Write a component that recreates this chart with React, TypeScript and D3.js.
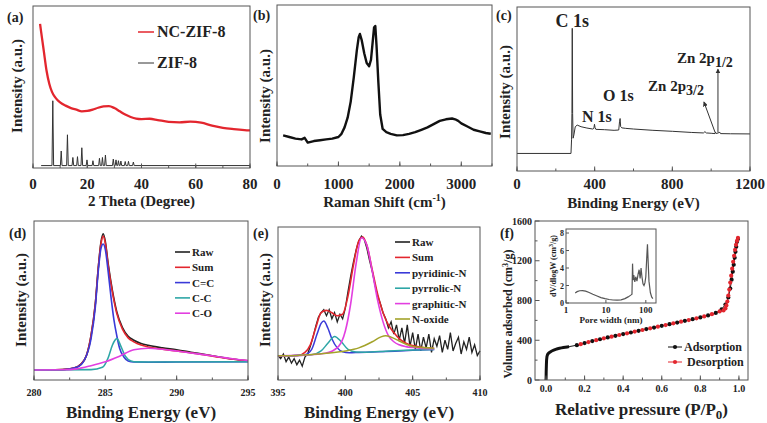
import React from "react";
import * as d3 from "d3";

const FONT = "Liberation Serif";

// ---------- (a) XRD ----------
const xrdNCx = [2.6, 3.0, 3.5, 4, 5, 6, 7, 8, 9, 10, 12, 14, 16, 18, 20, 22, 24, 26, 28, 30, 32, 34, 36, 38, 40, 43, 46, 50, 54, 58, 62, 66, 70, 74, 78, 80];
const xrdNCy = [89, 84, 78, 72, 60, 52, 47, 44, 42, 40.5, 38.5, 37, 36, 35, 35.2, 36, 37.2, 38, 38.2, 37, 35, 33, 31.5, 30.5, 30.2, 30.4, 29.6, 28.5, 28.2, 28.6, 28, 26.2, 24.8, 24, 23.4, 23.2];
const zifPeakPos = [7.3, 10.4, 12.7, 14.7, 16.4, 18.0, 19.9, 22.1, 24.5, 25.6, 26.7, 29.6, 30.6, 31.5, 32.4, 34.0, 35.2, 37.0];
const zifPeakH = [40, 9, 19, 5, 5.5, 11, 3.5, 3, 4.5, 5, 6.5, 4, 3.5, 3, 2.8, 2.5, 2.6, 2.2];
const zifBase = 1.5;
const xrdTicks = [0, 20, 40, 60, 80];

// ---------- (b) Raman ----------
const ramanX = [100, 200, 300, 400, 450, 500, 600, 700, 800, 900, 1000, 1050, 1100, 1150, 1200, 1250, 1300, 1330, 1350, 1380, 1420, 1460, 1500, 1530, 1560, 1580, 1600, 1620, 1650, 1680, 1720, 1780, 1850, 1950, 2050, 2150, 2250, 2350, 2450, 2550, 2650, 2750, 2850, 2900, 2950, 3000, 3100, 3200, 3300, 3400, 3480];
const ramanY = [19, 18, 17, 16.5, 17.5, 14.5, 15.5, 16, 16.5, 17, 18, 20, 24, 30, 40, 55, 72, 80, 82, 78, 70, 64, 62, 66, 78, 86, 87, 75, 52, 32, 23, 21, 20, 19, 19.2, 20, 21, 22.5, 24, 26, 28, 29, 29.5, 29, 28, 26.5, 24.5, 22.5, 21.5, 20.5, 20];
const ramanTicks = [0, 1000, 2000, 3000];

// ---------- (c) XPS survey ----------
const surveyX = [0, 278, 281, 283, 284.6, 286.5, 289, 293, 300, 310, 330, 360, 390, 396, 399, 402, 406, 450, 500, 524, 528, 531, 534, 540, 560, 600, 700, 800, 900, 960, 968, 975, 1000, 1020, 1022, 1026, 1045, 1048, 1100, 1200];
const surveyY = [10.7, 10.7, 19, 35, 87, 35, 20, 22, 27, 28, 27, 26.2, 25.6, 26, 28.5, 26.5, 25.4, 25.2, 24.8, 25, 30, 32, 27, 26.3, 26, 25.6, 24.8, 24.2, 23.5, 23.2, 24, 23.2, 23, 22.8, 23.8, 22.8, 23.6, 22.8, 22.7, 22.6];
const surveyTicks = [0, 400, 800, 1200];

// ---------- (d) C 1s ----------
const c1sRawX = [280, 281, 282, 282.8, 283.3, 283.7, 284.0, 284.3, 284.5, 284.7, 284.85, 285.0, 285.2, 285.5, 285.8, 286.2, 286.6, 287.0, 287.5, 288, 289, 290, 291, 292, 293, 294, 295];
const c1sRawY = [6.3, 6.3, 6.5, 7.5, 10, 16, 28, 48, 70, 87, 92, 87, 73, 56, 43, 33, 27.5, 25, 23, 21.8, 20.2, 19, 17.5, 16, 14.5, 13, 12];
const c1sSumX = [280, 281, 282, 282.8, 283.3, 283.7, 284.0, 284.3, 284.5, 284.7, 284.85, 285.0, 285.2, 285.5, 285.8, 286.2, 286.6, 287.0, 287.5, 288, 289, 290, 291, 292, 293, 294, 295];
const c1sSumY = [6.3, 6.3, 6.5, 7.5, 10, 16, 28, 48, 70, 86, 90.5, 86, 72, 55, 42, 32, 26.5, 24, 22, 20.8, 19.4, 18.3, 17, 15.8, 14.3, 13, 12];
const c1sCCX = [280, 282, 283, 283.5, 284, 284.3, 284.5, 284.7, 284.85, 285, 285.2, 285.4, 285.6, 285.8, 286.0, 286.3, 286.6, 287, 288, 290, 295];
const c1sCCY = [6.3, 6.4, 8, 12, 26, 46, 68, 83, 85.5, 82, 68, 52, 38, 28, 20, 14.5, 12, 11.3, 11.2, 11.3, 11.5];
const c1sCsCX = [280, 284, 284.8, 285.2, 285.5, 285.8, 286.1, 286.4, 286.8, 287.2, 288, 295];
const c1sCsCY = [6.3, 6.5, 8, 14, 22, 26, 21, 15, 12, 11.4, 11.3, 11.5];
const c1sCOX = [280, 282, 283, 284, 285, 286, 287, 288, 289, 290, 291, 292, 293, 294, 295];
const c1sCOY = [6.3, 6.4, 7, 9, 11.5, 15, 19, 20, 19.3, 18.2, 17, 15.8, 14.5, 13.2, 12.2];
const c1sTicks = [280, 285, 290, 295];
const c1sLegend = ["Raw", "Sum", "C=C", "C-C", "C-O"];

// ---------- (e) N 1s ----------
const n1sRawX = [395.0, 395.2, 395.4, 395.6, 395.8, 396.0, 396.2, 396.4, 396.6, 396.8, 397.0, 397.2, 397.4, 397.6, 397.8, 398.0, 398.2, 398.4, 398.6, 398.8, 399.0, 399.2, 399.4, 399.6, 399.8, 400.0, 400.2, 400.4, 400.6, 400.8, 401.0, 401.2, 401.4, 401.6, 401.8, 402.0, 402.2, 402.4, 402.6, 402.8, 403.0, 403.2, 403.4, 403.6, 403.8, 404.0, 404.2, 404.4, 404.6, 404.8, 405.0, 405.2, 405.4, 405.6, 405.8, 406.0, 406.2, 406.4, 406.6, 406.8, 407.0, 407.2, 407.4, 407.6, 407.8, 408.0, 408.2, 408.4, 408.6, 408.8, 409.0, 409.2, 409.4, 409.6, 409.8, 410.0];
const n1sRawY = [16, 14, 17, 12, 15, 11, 14, 10, 13, 9, 15, 17, 22, 28, 35, 41, 44, 46, 42, 46, 40, 44, 38, 43, 40, 47, 58, 68, 77, 85, 91, 94, 92, 86, 78, 71, 62, 55, 50, 44, 40, 34, 38, 30, 36, 26, 34, 24, 36, 22, 31, 20, 30, 19, 28, 21, 30, 18, 27, 22, 29, 18, 26, 20, 31, 19, 24, 28, 17, 25, 20, 28, 18, 23, 16, 19];
const n1sSumX = [395, 396.5, 397, 397.4, 397.8, 398.2, 398.6, 399.0, 399.4, 399.8, 400.2, 400.6, 401.0, 401.3, 401.6, 402.0, 402.4, 402.8, 403.2, 403.6, 404.0, 404.5, 405, 405.5, 406, 406.6];
const n1sSumY = [15.8, 16, 18, 23, 34, 44, 45.5, 44, 42, 43, 55, 75, 91, 93.5, 88, 72, 56, 44, 36, 31, 27, 24, 22.5, 21.5, 21, 20.6];
const n1sPyrdX = [395, 396, 397, 397.5, 397.9, 398.2, 398.4, 398.7, 399, 399.4, 399.8, 400.3, 401, 402, 403, 404, 405, 406.6];
const n1sPyrdY = [15.8, 15.9, 16.5, 20, 30, 37, 38.5, 34, 27, 21, 18.5, 17.8, 18, 18.3, 18.6, 19, 19.4, 20];
const n1sPyrrX = [395, 396, 397.5, 398.2, 398.7, 399.2, 399.7, 400.2, 400.8, 401.5, 403, 404.5, 406.6];
const n1sPyrrY = [15.8, 15.9, 16.5, 19, 24, 28.5, 25, 20, 18.3, 18.2, 18.8, 19.4, 20];
const n1sGraX = [395, 396, 398.5, 399.5, 400, 400.4, 400.8, 401.2, 401.6, 402, 402.4, 402.8, 403.2, 403.6, 404, 404.5, 405, 405.5, 406.6];
const n1sGraY = [15.8, 15.9, 17.5, 22, 32, 50, 76, 93, 88, 71, 52, 38, 29, 25, 23, 21.8, 21.2, 20.8, 20.5];
const n1sOxX = [395, 396, 398, 399, 400, 401, 402, 402.6, 403, 403.4, 404, 404.6, 405.2, 406.6];
const n1sOxY = [15.8, 15.9, 17, 17.8, 19, 21, 25, 28, 29, 28, 25.5, 23, 21.5, 20.8];
const n1sTicks = [395, 400, 405, 410];
const n1sLegend = ["Raw", "Sum", "pyridinic-N", "pyrrolic-N", "graphitic-N", "N-oxide"];

// ---------- (f) BET ----------
const adsX = [0, 0.0005, 0.001, 0.002, 0.003, 0.005, 0.008, 0.01, 0.015, 0.02, 0.03, 0.04, 0.05, 0.06, 0.07, 0.08, 0.09, 0.1, 0.11, 0.12, 0.16, 0.2, 0.24, 0.28, 0.32, 0.36, 0.4, 0.44, 0.48, 0.52, 0.56, 0.6, 0.64, 0.68, 0.72, 0.76, 0.8, 0.84, 0.88, 0.91, 0.93, 0.945, 0.955, 0.962, 0.968, 0.973, 0.978, 0.982, 0.986, 0.99, 0.995];
const adsY = [0, 20, 80, 150, 200, 235, 255, 262, 272, 280, 292, 300, 308, 314, 319, 323, 327, 330, 333, 336, 350, 372, 392, 410, 428, 445, 462, 478, 495, 512, 528, 545, 562, 578, 595, 612, 630, 650, 675, 710, 760, 830, 920, 1010, 1090, 1160, 1230, 1290, 1340, 1390, 1420];
const desX = [0.995, 0.99, 0.985, 0.98, 0.975, 0.97, 0.965, 0.96, 0.955, 0.95, 0.945, 0.94, 0.935, 0.93, 0.92, 0.9, 0.86, 0.82, 0.78, 0.74, 0.7, 0.66, 0.62, 0.58, 0.54, 0.5, 0.46, 0.42, 0.38, 0.34, 0.3, 0.26, 0.22, 0.18];
const desY = [1430, 1400, 1360, 1310, 1250, 1190, 1120, 1050, 980, 910, 850, 790, 750, 720, 700, 690, 662, 640, 621, 603, 587, 570, 553, 537, 520, 503, 487, 470, 453, 436, 419, 401, 382, 361];
const betXTicks = [0, 0.2, 0.4, 0.6, 0.8, 1.0];
const betYTicks = [0, 400, 800, 1200, 1600];
const poreX = [1.7, 1.9, 2.2, 2.6, 3.1, 3.8, 4.7, 6, 7.5, 9.5, 12, 15, 19, 24, 30, 36, 42, 45, 46.5, 48, 50, 53, 56, 60, 64, 68, 72, 76, 80, 85, 90, 95, 100, 105, 110, 115, 120, 130, 140, 150];
const poreY = [1.15, 1.3, 1.4, 1.42, 1.35, 1.2, 1.0, 0.8, 0.62, 0.5, 0.4, 0.34, 0.32, 0.36, 0.5, 0.7, 0.9, 1.0, 4.5, 2.6, 3.2, 2.4, 3.0, 2.5, 3.3, 3.8, 2.8, 4.0, 3.0, 2.2, 2.0, 2.3, 3.0, 5.0, 6.7, 4.5, 2.5, 1.2, 0.7, 0.5];
const poreXTicks = [1, 10, 100];
const poreYTicks = [0, 2, 4, 6, 8];

// ---------- helpers ----------
const zip = (xs: number[], ys: number[]) => xs.map((x, i) => [x, ys[i]] as [number, number]);
const INK = "#222";
const RED = "#e3262e";
const BLUE = "#3a3ad8";
const TEAL = "#2ea6a6";
const MAG = "#e23fe0";
const OLIVE = "#a3a32a";
const TS = { fontFamily: FONT };

type Box = { x0: number; x1: number; y0: number; y1: number };

function Frame({ b }: { b: Box }) {
  return <rect x={b.x0} y={b.y0} width={b.x1 - b.x0} height={b.y1 - b.y0} fill="none" stroke="#555" strokeWidth={1} />;
}

function Txt({ x, y, fs, anchor, children, fill }: any) {
  return (
    <text x={x} y={y} textAnchor={anchor || "start"} fontSize={fs} fontWeight="bold" style={TS} fill={fill || INK}>
      {children}
    </text>
  );
}

function BottomTicks({ sx, b, major, minor, fs, ly, fmt }: any) {
  return (
    <g>
      {minor.map((t: number, i: number) => (
        <line key={"m" + i} x1={sx(t)} x2={sx(t)} y1={b.y1} y2={b.y1 - 2.5} stroke="#555" />
      ))}
      {major.map((t: number, i: number) => (
        <line key={"M" + i} x1={sx(t)} x2={sx(t)} y1={b.y1} y2={b.y1 - 4.5} stroke="#555" />
      ))}
      {major.map((t: number, i: number) => (
        <Txt key={"t" + i} x={sx(t)} y={ly} fs={fs} anchor="middle">
          {fmt ? fmt(t) : t}
        </Txt>
      ))}
    </g>
  );
}

function YTitle({ x, y, fs, children }: any) {
  return (
    <text transform={`translate(${x},${y}) rotate(-90)`} textAnchor="middle" fontSize={fs} fontWeight="bold" style={TS} fill={INK}>
      {children}
    </text>
  );
}

const range = (a: number, b: number, s: number) => d3.range(a, b + s / 2, s);

export default function App() {
  const A: Box = { x0: 33, x1: 250, y0: 6, y1: 168 };
  const B: Box = { x0: 277, x1: 492, y0: 5, y1: 166 };
  const C: Box = { x0: 517, x1: 750, y0: 7, y1: 171 };
  const D: Box = { x0: 34, x1: 248, y0: 221, y1: 380 };
  const E: Box = { x0: 278, x1: 480, y0: 227, y1: 380 };
  const F: Box = { x0: 535, x1: 748, y0: 221, y1: 380 };
  const I: Box = { x0: 566, x1: 656, y0: 229, y1: 303 };

  const xA = d3.scaleLinear().domain([0, 80]).range([A.x0, A.x1]);
  const yA = d3.scaleLinear().domain([0, 100]).range([A.y1, A.y0]);
  const xB = d3.scaleLinear().domain([0, 3500]).range([B.x0, B.x1]);
  const yB = d3.scaleLinear().domain([0, 100]).range([B.y1, B.y0]);
  const xC = d3.scaleLinear().domain([0, 1200]).range([C.x0, C.x1]);
  const yC = d3.scaleLinear().domain([0, 100]).range([C.y1, C.y0]);
  const xD = d3.scaleLinear().domain([280, 295]).range([D.x0, D.x1]);
  const yD = d3.scaleLinear().domain([0, 100]).range([D.y1, D.y0]);
  const xE = d3.scaleLinear().domain([395, 410]).range([E.x0, E.x1]);
  const yE = d3.scaleLinear().domain([0, 100]).range([E.y1, E.y0]);
  const xF = d3.scaleLinear().domain([-0.057, 1.047]).range([F.x0, F.x1]);
  const yF = d3.scaleLinear().domain([0, 1600]).range([F.y1, F.y0]);
  const xI = d3.scaleLog().domain([1, 180]).range([I.x0, I.x1]);
  const yI = d3.scaleLinear().domain([0, 8.46]).range([I.y1, I.y0]);

  const mk = (sx: any, sy: any, curve: any = d3.curveMonotoneX) =>
    d3.line<[number, number]>().x((d) => sx(d[0])).y((d) => sy(d[1])).curve(curve);

  const zifPts: [number, number][] = [[3, zifBase]];
  zifPeakPos.forEach((p, i) => {
    zifPts.push([p - 0.3, zifBase], [p, zifBase + zifPeakH[i]], [p + 0.3, zifBase]);
  });
  zifPts.push([80, zifBase]);

  const lA = mk(xA, yA);
  const lAlin = mk(xA, yA, d3.curveLinear);
  const lB = mk(xB, yB, d3.curveLinear);
  const lC = mk(xC, yC, d3.curveLinear);
  const lD = mk(xD, yD);
  const lE = mk(xE, yE);
  const lElin = mk(xE, yE, d3.curveLinear);
  const lF = mk(xF, yF, d3.curveLinear);
  const lI = mk(xI, yI, d3.curveLinear);

  const dColors = [INK, RED, BLUE, TEAL, MAG];
  const eColors = [INK, RED, BLUE, TEAL, MAG, OLIVE];

  const adsPts = zip(adsX, adsY);
  const desPts = zip(desX, desY);

  return (
    <svg width={767} height={423} style={{ position: "absolute", left: 0, top: 0, background: "#fff" }}>
      <defs>
        <marker id="arr" viewBox="0 0 6 6" refX="5" refY="3" markerWidth="5" markerHeight="5" orient="auto">
          <path d="M0,0 L6,3 L0,6 z" fill="#333" />
        </marker>
      </defs>
      <rect x={0} y={0} width={767} height={423} fill="#fff" />

      {/* ===== (a) ===== */}
      <Txt x={7} y={22} fs={14}>(a)</Txt>
      <path d={lAlin(zifPts) || ""} fill="none" stroke="#333" strokeWidth={1} />
      <path d={lA(zip(xrdNCx, xrdNCy)) || ""} fill="none" stroke={RED} strokeWidth={2.3} />
      <Frame b={A} />
      <BottomTicks sx={xA} b={A} major={xrdTicks} minor={range(0, 80, 10)} fs={15} ly={189} />
      <Txt x={(A.x0 + A.x1) / 2} y={206} fs={15} anchor="middle">2 Theta (Degree)</Txt>
      <YTitle x={22} y={86} fs={15}>Intensity (a.u.)</YTitle>
      <line x1={138} x2={154} y1={32} y2={32} stroke={RED} strokeWidth={1.5} />
      <Txt x={157} y={37} fs={16}>NC-ZIF-8</Txt>
      <line x1={138} x2={154} y1={63} y2={63} stroke="#333" strokeWidth={1} />
      <Txt x={157} y={68} fs={16}>ZIF-8</Txt>

      {/* ===== (b) ===== */}
      <Txt x={253} y={20} fs={14}>(b)</Txt>
      <path d={lB(zip(ramanX, ramanY)) || ""} fill="none" stroke="#111" strokeWidth={2.4} strokeLinejoin="round" />
      <Frame b={B} />
      <BottomTicks sx={xB} b={B} major={ramanTicks} minor={range(0, 3500, 500)} fs={15} ly={189} />
      <Txt x={(B.x0 + B.x1) / 2} y={207} fs={15} anchor="middle">
        Raman Shift (cm<tspan dy={-6} fontSize={10}>-1</tspan><tspan dy={6}>)</tspan>
      </Txt>
      <YTitle x={270} y={96} fs={15}>Intensity (a.u.)</YTitle>

      {/* ===== (c) ===== */}
      <Txt x={496} y={20} fs={14}>(c)</Txt>
      <path d={lC(zip(surveyX, surveyY)) || ""} fill="none" stroke="#333" strokeWidth={1} />
      <Frame b={C} />
      <BottomTicks sx={xC} b={C} major={surveyTicks} minor={range(0, 1200, 200)} fs={15} ly={189} />
      <Txt x={(C.x0 + C.x1) / 2} y={208} fs={15} anchor="middle">Binding Energy (eV)</Txt>
      <YTitle x={510} y={92} fs={15}>Intensity (a.u.)</YTitle>
      <Txt x={xC(284.6)} y={yC(88)} fs={18} anchor="middle">C 1s</Txt>
      <Txt x={xC(335)} y={yC(30)} fs={16}>N 1s</Txt>
      <Txt x={xC(443)} y={yC(42.4)} fs={16}>O 1s</Txt>
      <Txt x={xC(675)} y={yC(48.5)} fs={15}>
        Zn 2p<tspan dy={4} fontSize={14}>3/2</tspan>
      </Txt>
      <Txt x={xC(824)} y={yC(66)} fs={15}>
        Zn 2p<tspan dy={4} fontSize={14}>1/2</tspan>
      </Txt>
      <line x1={xC(1020)} y1={yC(23.6)} x2={xC(963)} y2={yC(42)} stroke="#333" strokeWidth={1} markerEnd="url(#arr)" />
      <line x1={xC(1035)} y1={yC(23.6)} x2={xC(1035)} y2={yC(62)} stroke="#333" strokeWidth={1} markerEnd="url(#arr)" />

      {/* ===== (d) ===== */}
      <Txt x={9} y={238} fs={14}>(d)</Txt>
      <path d={lD(zip(c1sRawX, c1sRawY)) || ""} fill="none" stroke={INK} strokeWidth={1.6} />
      <path d={lD(zip(c1sSumX, c1sSumY)) || ""} fill="none" stroke={RED} strokeWidth={1.6} />
      <path d={lD(zip(c1sCCX, c1sCCY)) || ""} fill="none" stroke={BLUE} strokeWidth={1.6} />
      <path d={lD(zip(c1sCsCX, c1sCsCY)) || ""} fill="none" stroke={TEAL} strokeWidth={1.6} />
      <path d={lD(zip(c1sCOX, c1sCOY)) || ""} fill="none" stroke={MAG} strokeWidth={1.6} />
      <Frame b={D} />
      <BottomTicks sx={xD} b={D} major={c1sTicks} minor={range(280, 295, 2.5)} fs={10} ly={396} />
      <Txt x={(D.x0 + D.x1) / 2} y={418} fs={17} anchor="middle">Binding Energy (eV)</Txt>
      <YTitle x={26} y={300} fs={15}>Intensity (a.u.)</YTitle>
      {c1sLegend.map((s, i) => (
        <g key={s}>
          <line x1={175} x2={190} y1={252 + i * 15.3} y2={252 + i * 15.3} stroke={dColors[i]} strokeWidth={1.6} />
          <Txt x={192} y={256 + i * 15.3} fs={11}>{s}</Txt>
        </g>
      ))}

      {/* ===== (e) ===== */}
      <Txt x={253} y={238} fs={14}>(e)</Txt>
      <path d={lElin(zip(n1sRawX, n1sRawY)) || ""} fill="none" stroke={INK} strokeWidth={1.3} />
      <path d={lE(zip(n1sSumX, n1sSumY)) || ""} fill="none" stroke={RED} strokeWidth={1.6} />
      <path d={lE(zip(n1sPyrdX, n1sPyrdY)) || ""} fill="none" stroke={BLUE} strokeWidth={1.5} />
      <path d={lE(zip(n1sPyrrX, n1sPyrrY)) || ""} fill="none" stroke={TEAL} strokeWidth={1.5} />
      <path d={lE(zip(n1sGraX, n1sGraY)) || ""} fill="none" stroke={MAG} strokeWidth={1.6} />
      <path d={lE(zip(n1sOxX, n1sOxY)) || ""} fill="none" stroke={OLIVE} strokeWidth={1.5} />
      <Frame b={E} />
      <BottomTicks sx={xE} b={E} major={n1sTicks} minor={range(395, 410, 2.5)} fs={10} ly={396} />
      <Txt x={(E.x0 + E.x1) / 2} y={418} fs={17} anchor="middle">Binding Energy (eV)</Txt>
      <YTitle x={270} y={300} fs={15}>Intensity (a.u.)</YTitle>
      {n1sLegend.map((s, i) => (
        <g key={s}>
          <line x1={395} x2={410} y1={242 + i * 15.4} y2={242 + i * 15.4} stroke={eColors[i]} strokeWidth={1.6} />
          <Txt x={412} y={246 + i * 15.4} fs={11}>{s}</Txt>
        </g>
      ))}

      {/* ===== (f) ===== */}
      <Txt x={500} y={238} fs={14}>(f)</Txt>
      <path d={lF(adsPts) || ""} fill="none" stroke="#111" strokeWidth={1} />
      <path d={lF(adsPts.filter((d) => d[0] <= 0.12)) || ""} fill="none" stroke="#111" strokeWidth={3} />
      <path d={lF(desPts) || ""} fill="none" stroke={RED} strokeWidth={1} />
      {adsPts.filter((d) => d[0] >= 0.16).map((d, i) => (
        <circle key={"a" + i} cx={xF(d[0])} cy={yF(d[1])} r={2.1} fill="#111" />
      ))}
      {desPts.map((d, i) => (
        <circle key={"d" + i} cx={xF(d[0])} cy={yF(d[1])} r={2.1} fill={RED} />
      ))}
      <Frame b={F} />
      <BottomTicks sx={xF} b={F} major={betXTicks} minor={range(0, 1, 0.1)} fs={10} ly={392} fmt={(t: number) => t.toFixed(1)} />
      {range(0, 1600, 200).map((t, i) => (
        <line key={"yt" + i} x1={F.x0} x2={F.x0 + (t % 400 === 0 ? 4.5 : 2.5)} y1={yF(t)} y2={yF(t)} stroke="#555" />
      ))}
      {betYTicks.map((t) => (
        <Txt key={"yl" + t} x={532} y={yF(t) + 3.5} fs={10} anchor="end">{t}</Txt>
      ))}
      <Txt x={(F.x0 + F.x1) / 2} y={415} fs={17} anchor="middle">
        Relative pressure (P/P<tspan dy={4} fontSize={13}>0</tspan><tspan dy={-4}>)</tspan>
      </Txt>
      <YTitle x={512} y={314} fs={12}>
        Volume adsorbed (cm<tspan dy={-4} fontSize={8}>3</tspan><tspan dy={4}>/g)</tspan>
      </YTitle>
      <line x1={668} x2={682} y1={347} y2={347} stroke="#111" />
      <circle cx={675} cy={347} r={2.1} fill="#111" />
      <Txt x={684} y={351} fs={12}>Adsorption</Txt>
      <line x1={668} x2={682} y1={362} y2={362} stroke={RED} />
      <circle cx={675} cy={362} r={2.1} fill={RED} />
      <Txt x={687} y={366} fs={12}>Desorption</Txt>

      {/* inset */}
      <rect x={I.x0} y={I.y0} width={I.x1 - I.x0} height={I.y1 - I.y0} fill="#fff" stroke="#555" strokeWidth={1} />
      <path d={lI(zip(poreX, poreY)) || ""} fill="none" stroke="#555" strokeWidth={1.2} />
      {poreXTicks.map((t) => (
        <g key={"px" + t}>
          <line x1={xI(t)} x2={xI(t)} y1={I.y1} y2={I.y1 - 3} stroke="#555" />
          <Txt x={xI(t)} y={313} fs={9} anchor="middle">{t}</Txt>
        </g>
      ))}
      {poreYTicks.map((t) => (
        <g key={"py" + t}>
          <line x1={I.x0} x2={I.x0 + 3} y1={yI(t)} y2={yI(t)} stroke="#555" />
          <Txt x={I.x0 - 2} y={yI(t) + 3} fs={8} anchor="end">{t}</Txt>
        </g>
      ))}
      <Txt x={(I.x0 + I.x1) / 2} y={323} fs={9} anchor="middle">Pore width (nm)</Txt>
      <YTitle x={556} y={266} fs={8}>
        dV/dlogW (cm<tspan dy={-3} fontSize={6}>3</tspan><tspan dy={3}>/g)</tspan>
      </YTitle>
    </svg>
  );
}
